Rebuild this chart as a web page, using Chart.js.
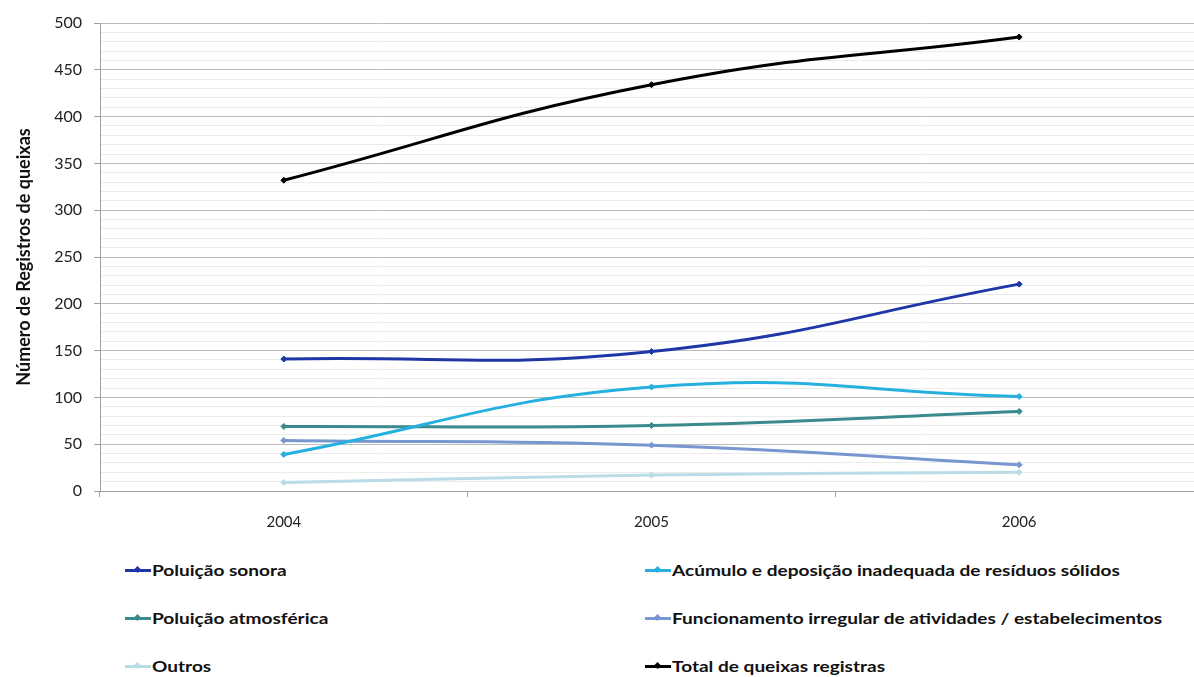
<!DOCTYPE html>
<html>
<head>
<meta charset="utf-8">
<script src="https://cdn.jsdelivr.net/npm/chart.js@4.4.0/dist/chart.umd.min.js"></script>
<style>
    html, body { margin: 0; padding: 0; background: #fff; overflow: hidden; }
    body { width: 1194px; height: 677px; position: relative; font-family: Lato, "Open Sans", sans-serif; }
    #wrap { position: absolute; left: 0; top: 0; width: 1208px; height: 540px; }
    .legend { position: absolute; font-weight: bold; font-size: 16px; color: #111; white-space: nowrap; }
    .legend .txt { display: inline-block; transform: scaleX(1.19); transform-origin: left center; }
    .legend .mark { display: inline-block; position: relative; width: 26px; height: 3px; vertical-align: middle; margin-right: 1px; top: -1px; }
    .legend .mark i { position: absolute; left: 10px; top: -2.5px; width: 5px; height: 5px; transform: rotate(45deg); }
</style>
</head>
<body>
<div id="wrap"><canvas id="chart"></canvas></div>
<div id="legend"></div>
<script>
const years = ['2004', '2005', '2006'];
const sonora = [141, 149, 221];
const residuos = [39, 111, 101];
const atmosferica = [69, 70, 85];
const funcionamento = [54, 49, 28];
const outros = [9, 17, 20];
const total = [332, 434, 485];

const seriesNames = [
    'Poluição sonora',
    'Acúmulo e deposição inadequada de resíduos sólidos',
    'Poluição atmosférica',
    'Funcionamento irregular de atividades / estabelecimentos',
    'Outros',
    'Total de queixas registras'
];
const seriesColors = ['#1f37a6', '#25b0e0', '#3b8a8e', '#7896d0', '#b9dce6', '#000000'];
const seriesData = [sonora, residuos, atmosferica, funcionamento, outros, total];

const datasets = seriesData.map((data, i) => ({
    label: seriesNames[i],
    data: data,
    borderColor: seriesColors[i],
    backgroundColor: seriesColors[i],
    borderWidth: 3,
    tension: 0.45,
    pointStyle: 'rectRot',
    pointRadius: 3,
    pointBorderWidth: 1
}));

const ctx = document.getElementById('chart').getContext('2d');
new Chart(ctx, {
    type: 'line',
    data: { labels: years, datasets: datasets },
    options: {
        responsive: true,
        maintainAspectRatio: false,
        animation: false,
        layout: { padding: { top: 23, right: 0, left: 13, bottom: 0 } },
        plugins: {
            legend: { display: false },
            tooltip: { enabled: false }
        },
        scales: {
            x: {
                offset: true,
                grid: {
                    offset: true,
                    drawOnChartArea: false,
                    tickLength: 6,
                    color: '#a0a0a0'
                },
                border: { color: '#a0a0a0', width: 1 },
                ticks: { color: '#222', font: { family: 'Lato', size: 15 }, padding: 16 },
                afterFit: scale => { scale.height = 49; }
            },
            y: {
                min: 0,
                max: 500,
                ticks: {
                    stepSize: 10,
                    autoSkip: false,
                    color: '#222',
                    font: { family: 'Lato', size: 16 },
                    padding: 12,
                    callback: v => (v % 50 === 0 ? v : '')
                },
                grid: {
                    color: c => (c.tick && c.tick.value % 50 === 0 ? '#bdbdbd' : '#ececec'),
                    tickLength: 6,
                    tickColor: c => (c.tick && c.tick.value % 50 === 0 ? '#a0a0a0' : 'rgba(0,0,0,0)')
                },
                border: { color: '#a0a0a0', width: 1 },
                title: {
                    display: true,
                    text: 'Número de Registros de queixas',
                    color: '#111',
                    font: { family: 'Lato', size: 18, weight: 'bold' },
                    padding: { top: 0, bottom: 4 }
                },
                afterFit: scale => { scale.width = 87; }
            }
        }
    }
});

// two-column legend under the chart
const legend = document.getElementById('legend');
seriesNames.forEach((name, k) => {
    const col = k % 2;
    const row = Math.floor(k / 2);
    const el = document.createElement('div');
    el.className = 'legend';
    el.style.left = (col === 0 ? 125 : 645) + 'px';
    el.style.top = (560 + row * 48) + 'px';
    el.innerHTML = '<span class="mark" style="background:' + seriesColors[k] + '"><i style="background:' +
        seriesColors[k] + '"></i></span><span class="txt">' + name + '</span>';
    legend.appendChild(el);
});
</script>
</body>
</html>
